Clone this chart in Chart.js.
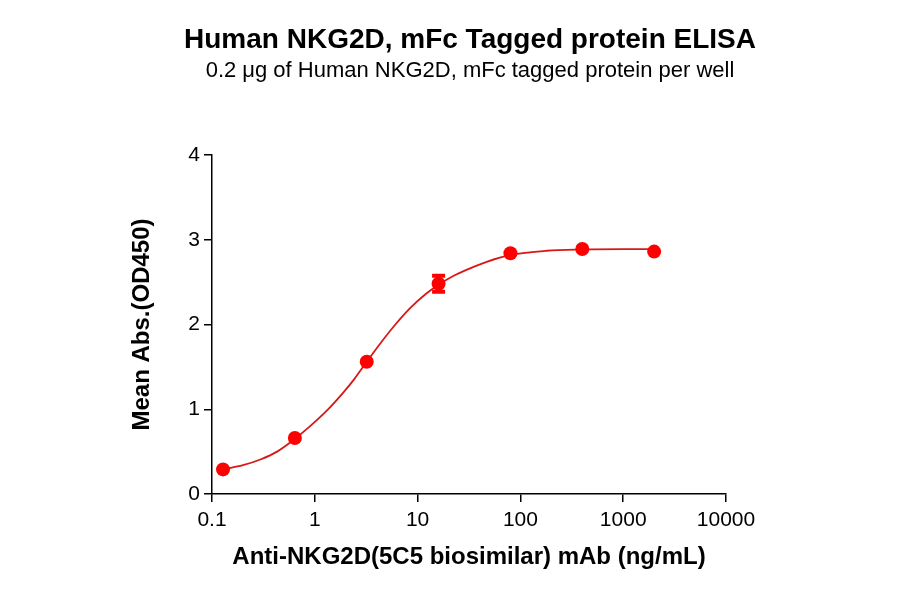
<!DOCTYPE html>
<html>
<head>
<meta charset="utf-8">
<script src="https://cdn.jsdelivr.net/npm/chart.js@4.4.1/dist/chart.umd.min.js"></script>
<style>
  html, body { margin: 0; padding: 0; background: #ffffff; }
  #wrap { width: 900px; height: 594px; }
</style>
</head>
<body>
<div id="wrap"><canvas id="c" width="900" height="594"></canvas></div>
<script>
// ---- data ----
const titleText = 'Human NKG2D, mFc Tagged protein ELISA';
const subtitleText = '0.2 \u03BCg of Human NKG2D, mFc tagged protein per well';
const xAxisTitle = 'Anti-NKG2D(5C5 biosimilar) mAb (ng/mL)';
const yAxisTitle = 'Mean Abs.(OD450)';

// measured points (mean OD450) and error (half-range)
const concentrations = [0.128, 0.64, 3.2, 16, 80, 400, 2000];
const meanAbs = [0.29, 0.66, 1.56, 2.48, 2.84, 2.89, 2.86];
const errAbs = [0, 0, 0, 0.095, 0, 0, 0];

// fitted curve
const fitConc = [0.128, 0.2, 0.3, 0.43, 0.64, 0.9, 1.3, 1.9, 2.4, 3.2, 4.3, 5.8, 8.4, 12, 16, 22, 32, 47, 80, 180, 400, 1000, 2000];
const fitAbs = [0.29, 0.34, 0.41, 0.50, 0.65, 0.80, 0.98, 1.20, 1.35, 1.56, 1.77, 1.97, 2.19, 2.36, 2.47, 2.57, 2.66, 2.74, 2.82, 2.87, 2.885, 2.89, 2.89];

const xTickValues = [0.1, 1, 10, 100, 1000, 10000];
const xTickLabels = ['0.1', '1', '10', '100', '1000', '10000'];
const yTickValues = [0, 1, 2, 3, 4];
const yTickLabels = ['0', '1', '2', '3', '4'];

// ---- styling ----
const FONT = "'Liberation Sans', Arial, Helvetica, sans-serif";
const RED = '#FF0000';
const LINE_RED = '#D81818';

const points = concentrations.map((c, i) => ({ x: c, y: meanAbs[i] }));
const fitPoints = fitConc.map((c, i) => ({ x: c, y: fitAbs[i] }));

const titlePlugin = {
  id: 'titles',
  afterDraw(chart) {
    const ctx = chart.ctx;
    const cx = 470;
    ctx.save();
    ctx.fillStyle = '#000';
    ctx.textAlign = 'center';
    ctx.textBaseline = 'middle';
    ctx.font = 'bold 28px ' + FONT;
    ctx.fillText(titleText, cx, 40);
    ctx.font = '22px ' + FONT;
    ctx.fillText(subtitleText, cx, 71);
    ctx.restore();
  }
};

const errorBarPlugin = {
  id: 'errorBars',
  afterDatasetsDraw(chart) {
    const ctx = chart.ctx;
    const xs = chart.scales.x, ys = chart.scales.y;
    ctx.save();
    ctx.strokeStyle = RED;
    ctx.lineWidth = 4;
    concentrations.forEach((c, i) => {
      const e = errAbs[i];
      if (!e) return;
      const px = xs.getPixelForValue(c);
      const top = ys.getPixelForValue(meanAbs[i] + e);
      const bot = ys.getPixelForValue(meanAbs[i] - e);
      const hw = 6.5;
      ctx.beginPath();
      ctx.moveTo(px, top); ctx.lineTo(px, bot);
      ctx.moveTo(px - hw, top); ctx.lineTo(px + hw, top);
      ctx.moveTo(px - hw, bot); ctx.lineTo(px + hw, bot);
      ctx.stroke();
    });
    ctx.restore();
  }
};

new Chart(document.getElementById('c'), {
  type: 'scatter',
  data: {
    datasets: [{
      label: 'fit',
      data: fitPoints,
      showLine: true,
      cubicInterpolationMode: 'monotone',
      borderColor: LINE_RED,
      borderWidth: 1.8,
      pointRadius: 0,
      pointHoverRadius: 0,
      order: 2
    }, {
      label: 'mean',
      data: points,
      showLine: false,
      backgroundColor: RED,
      pointBackgroundColor: RED,
      pointBorderColor: RED,
      pointBorderWidth: 0,
      pointRadius: 7,
      pointHoverRadius: 7,
      order: 1
    }]
  },
  options: {
    responsive: false,
    animation: false,
    devicePixelRatio: 1,
    layout: { padding: { top: 155, left: 0, right: 174, bottom: 0 } },
    plugins: {
      legend: { display: false },
      tooltip: { enabled: false },
      title: { display: false }
    },
    scales: {
      x: {
        type: 'logarithmic',
        position: 'bottom',
        min: 0.1,
        max: 10000,
        afterBuildTicks(scale) { scale.ticks = xTickValues.map(v => ({ value: v, major: true })); },
        afterFit(scale) { scale.height = 100; },
        ticks: {
          color: '#000',
          font: { family: FONT, size: 21 },
          padding: 6,
          autoSkip: false,
          maxRotation: 0,
          callback(value) {
            const i = xTickValues.indexOf(value);
            return i >= 0 ? xTickLabels[i] : '';
          }
        },
        grid: { display: true, drawOnChartArea: false, drawTicks: true, tickLength: 8, color: '#000', lineWidth: 1.5 },
        border: { display: true, color: '#000', width: 1.5 },
        title: {
          display: true,
          text: xAxisTitle,
          color: '#000',
          font: { family: FONT, size: 24, weight: 'bold' },
          padding: { top: 0, bottom: 22 }
        }
      },
      y: {
        type: 'linear',
        position: 'left',
        min: 0,
        max: 4,
        afterBuildTicks(scale) { scale.ticks = yTickValues.map(v => ({ value: v })); },
        afterFit(scale) { scale.width = 212; },
        ticks: {
          color: '#000',
          font: { family: FONT, size: 21 },
          padding: 4,
          callback(value) {
            const i = yTickValues.indexOf(value);
            return i >= 0 ? yTickLabels[i] : '';
          }
        },
        grid: { display: true, drawOnChartArea: false, drawTicks: true, tickLength: 8, color: '#000', lineWidth: 1.5 },
        border: { display: true, color: '#000', width: 1.5 },
        title: {
          display: true,
          text: yAxisTitle,
          color: '#000',
          font: { family: FONT, size: 24, weight: 'bold' },
          padding: { top: 128, bottom: 0 }
        }
      }
    }
  },
  plugins: [titlePlugin, errorBarPlugin]
});
</script>
</body>
</html>
